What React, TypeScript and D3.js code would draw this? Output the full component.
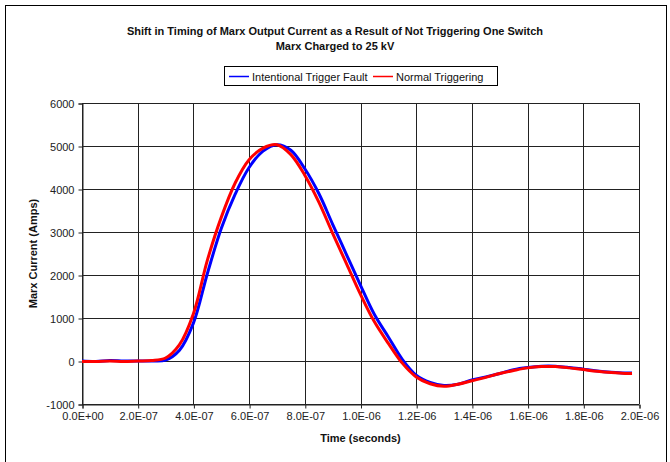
import React, { useEffect, useRef } from "react";
import * as d3 from "d3";

// time in microseconds
const times = [
  0, 0.05, 0.1, 0.15, 0.2, 0.25, 0.3, 0.35, 0.4, 0.45, 0.5, 0.55, 0.6, 0.65,
  0.7, 0.75, 0.8, 0.85, 0.9, 0.95, 1.0, 1.05, 1.1, 1.15, 1.2, 1.25, 1.3, 1.35,
  1.4, 1.45, 1.5, 1.55, 1.6, 1.65, 1.7, 1.75, 1.8, 1.85, 1.9, 1.95, 1.975,
];

const faultCurrent = [
  0, -10, 10, 0, 0, 0, 20, 250, 880, 2030, 3080, 3880, 4500, 4880, 5030, 4900,
  4470, 3900, 3180, 2470, 1760, 1080, 560, 40, -330, -500, -570, -540, -440,
  -370, -290, -200, -150, -120, -120, -150, -190, -230, -260, -280, -280,
];

const normalCurrent = [
  -10, -10, 0, -10, 0, 10, 70, 380, 1100, 2340, 3340, 4140, 4680, 4950, 5030,
  4800, 4320, 3700, 2970, 2260, 1550, 910, 410, -50, -370, -530, -590, -540,
  -460, -380, -290, -220, -160, -130, -130, -160, -200, -240, -270, -290, -290,
];

const xTicks = [0, 0.2, 0.4, 0.6, 0.8, 1.0, 1.2, 1.4, 1.6, 1.8, 2.0];
const xTickLabels = [
  "0.0E+00", "2.0E-07", "4.0E-07", "6.0E-07", "8.0E-07", "1.0E-06",
  "1.2E-06", "1.4E-06", "1.6E-06", "1.8E-06", "2.0E-06",
];
const yTicks = [-1000, 0, 1000, 2000, 3000, 4000, 5000, 6000];

const seriesNames = ["Intentional Trigger Fault", "Normal Triggering"];
const seriesColors = ["#0000ff", "#ff0000"];

function App() {
  const canvas = useRef(null);

  function drawChart() {
    const [width, height] = [670, 462];
    const margin = { top: 103, right: 31, bottom: 58, left: 82 };
    const font = "Arial, 'Liberation Sans', sans-serif";

    d3.select(canvas.current).selectAll("*").remove();
    const svg = d3
      .select(canvas.current)
      .append("svg")
      .attr("width", width)
      .attr("height", height)
      .style("position", "absolute")
      .style("left", 0)
      .style("top", 0)
      .style("background", "#fff");

    const xScale = d3
      .scaleLinear()
      .domain([0, 2])
      .range([margin.left, width - margin.right]);
    const yScale = d3
      .scaleLinear()
      .domain([-1000, 6000])
      .range([height - margin.bottom, margin.top]);

    // outer frame
    svg
      .append("rect")
      .attr("x", 5.5)
      .attr("y", 5.5)
      .attr("width", 661)
      .attr("height", 480)
      .attr("fill", "#fff")
      .attr("stroke", "#000");

    // titles
    const title = svg
      .append("text")
      .attr("text-anchor", "middle")
      .attr("font-family", font)
      .attr("font-weight", "bold")
      .attr("font-size", 11)
      .attr("fill", "#111");
    title
      .append("tspan")
      .attr("x", 335)
      .attr("y", 35)
      .text("Shift in Timing of Marx Output Current as a Result of Not Triggering One Switch");
    title
      .append("tspan")
      .attr("x", 335)
      .attr("y", 50)
      .text("Marx Charged to 25 kV");

    // grid
    const gridG = svg.append("g").attr("shape-rendering", "crispEdges");
    gridG
      .selectAll()
      .data(xTicks)
      .join("line")
      .attr("x1", (d) => Math.round(xScale(d)) + 0.5)
      .attr("x2", (d) => Math.round(xScale(d)) + 0.5)
      .attr("y1", margin.top)
      .attr("y2", height - margin.bottom)
      .attr("stroke", "#222");
    gridG
      .selectAll()
      .data(yTicks)
      .join("line")
      .attr("x1", margin.left)
      .attr("x2", width - margin.right)
      .attr("y1", (d) => Math.round(yScale(d)) + 0.5)
      .attr("y2", (d) => Math.round(yScale(d)) + 0.5)
      .attr("stroke", "#222");

    // axes
    const xAxis = d3
      .axisBottom(xScale)
      .tickValues(xTicks)
      .tickSize(4)
      .tickPadding(4)
      .tickFormat((d, i) => xTickLabels[i]);
    const yAxis = d3
      .axisLeft(yScale)
      .tickValues(yTicks)
      .tickSize(4)
      .tickPadding(4)
      .tickFormat((d) => String(d));

    const xAxisG = svg
      .append("g")
      .attr("transform", `translate(0.5, ${Math.round(yScale(-1000)) + 0.5})`)
      .call(xAxis);
    const yAxisG = svg
      .append("g")
      .attr("transform", `translate(${margin.left + 0.5}, 0.5)`)
      .call(yAxis);
    [xAxisG, yAxisG].forEach((g) => {
      g.selectAll("text")
        .attr("font-family", font)
        .attr("font-size", 11)
        .attr("fill", "#222");
      g.selectAll("line, path").attr("stroke", "#222");
    });

    // axis titles
    svg
      .append("text")
      .attr("x", (margin.left + width - margin.right) / 2)
      .attr("y", 442)
      .attr("text-anchor", "middle")
      .attr("font-family", font)
      .attr("font-weight", "bold")
      .attr("font-size", 11)
      .attr("fill", "#111")
      .text("Time (seconds)");
    svg
      .append("text")
      .attr("transform", `translate(37, ${yScale(2500)}) rotate(-90)`)
      .attr("text-anchor", "middle")
      .attr("font-family", font)
      .attr("font-weight", "bold")
      .attr("font-size", 11)
      .attr("fill", "#111")
      .text("Marx Current (Amps)");

    // lines
    const line = d3
      .line<number>()
      .x((d, i) => xScale(times[i]))
      .y((d) => yScale(d))
      .curve(d3.curveCatmullRom);

    [faultCurrent, normalCurrent].forEach((values, k) => {
      svg
        .append("path")
        .datum(values)
        .attr("d", line)
        .attr("fill", "none")
        .attr("stroke", seriesColors[k])
        .attr("stroke-width", 3)
        .attr("stroke-linejoin", "round");
    });

    // legend
    const legendG = svg.append("g");
    legendG
      .append("rect")
      .attr("x", 224.5)
      .attr("y", 66.5)
      .attr("width", 273)
      .attr("height", 19)
      .attr("fill", "#fff")
      .attr("stroke", "#000");
    const legendX = [229, 373];
    seriesNames.forEach((name, k) => {
      legendG
        .append("line")
        .attr("x1", legendX[k])
        .attr("x2", legendX[k] + 20)
        .attr("y1", 76.5)
        .attr("y2", 76.5)
        .attr("stroke", seriesColors[k])
        .attr("stroke-width", 1.5);
      legendG
        .append("text")
        .attr("x", legendX[k] + 23)
        .attr("y", 80.5)
        .attr("font-family", font)
        .attr("font-size", 11)
        .attr("fill", "#111")
        .text(name);
    });
  }

  useEffect(() => {
    drawChart();
  }, []);

  return <div ref={canvas}></div>;
}

export default App;
